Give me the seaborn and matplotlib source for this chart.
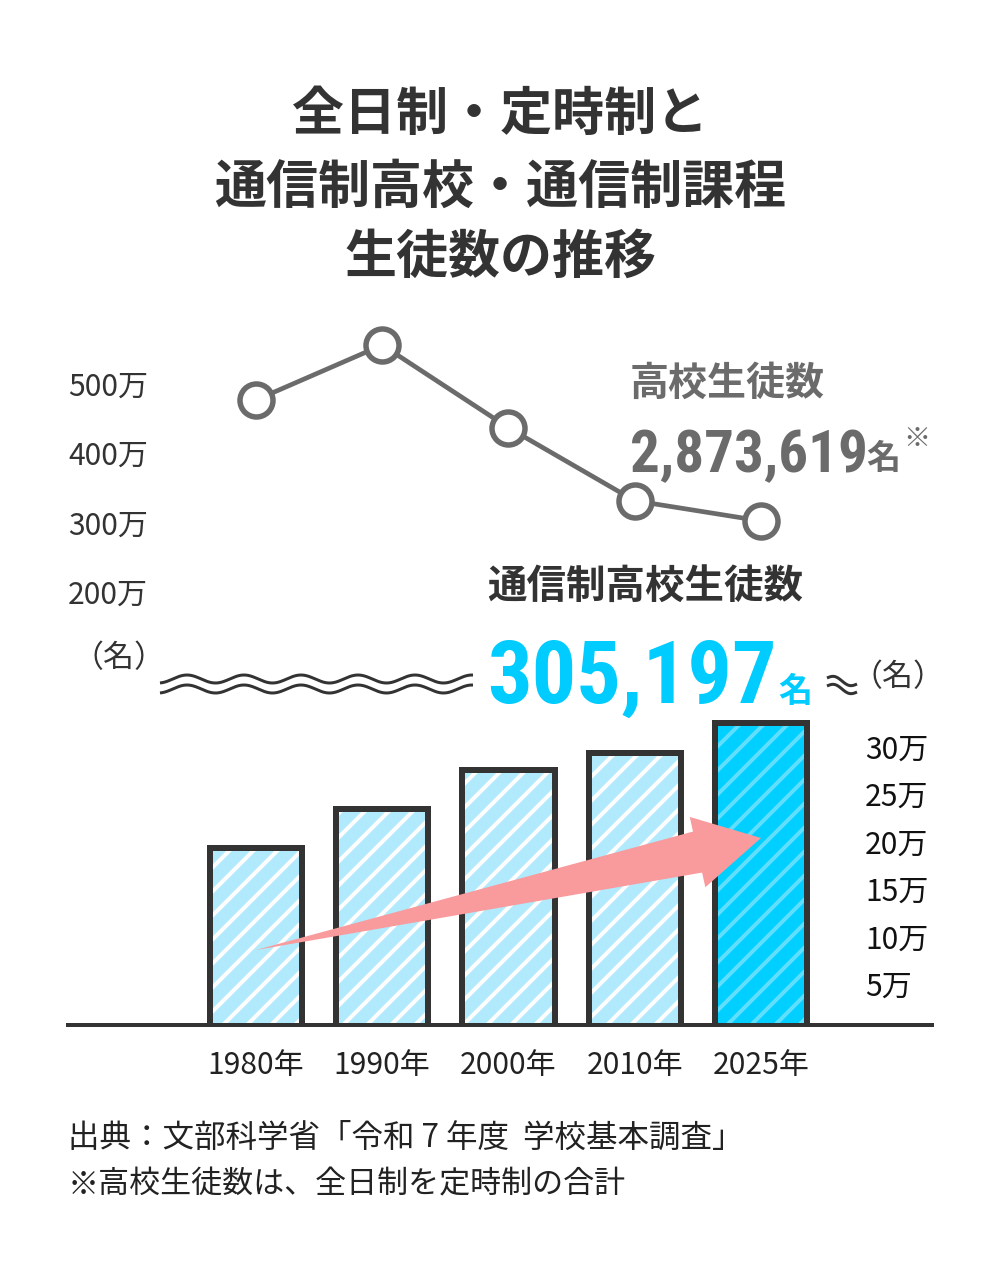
import numpy as np
import pandas as pd
import matplotlib
matplotlib.use("Agg")
import matplotlib.pyplot as plt
import seaborn as sns
from matplotlib import font_manager as fm
from matplotlib.patches import Polygon
from matplotlib.lines import Line2D
from matplotlib.transforms import IdentityTransform
from matplotlib.textpath import TextPath
from matplotlib.font_manager import FontProperties

# ---------------- data ----------------
years = ["1980年", "1990年", "2000年", "2010年", "2025年"]
hs_students_man = [476, 555, 436, 331, 302]            # 高校生徒数 (万人)
corr_students_man = [19.3, 23.4, 27.5, 29.3, 32.5]     # 通信制高校生徒数 (万人)
top_ticks = [200, 300, 400, 500]
top_ticklabels = ["200万", "300万", "400万", "500万"]
bar_ticks = [5, 10, 15, 20, 25, 30]
bar_ticklabels = ["5万", "10万", "15万", "20万", "25万", "30万"]
title_lines = ["全日制・定時制と", "通信制高校・通信制課程", "生徒数の推移"]
hs_label = "高校生徒数"
hs_total = "2,873,619"
corr_label = "通信制高校生徒数"
corr_total = "305,197"
unit = "名"
note_mark = "※"
unit_paren = "（名）"
source_lines = ["出典：文部科学省「令和 7 年度  学校基本調査」",
                "※高校生徒数は、全日制を定時制の合計"]

# ---------------- style ----------------
W, H, DPI = 1000, 1261, 72
sns.set_theme(style="white")
plt.rcParams['font.family'] = ['Noto Sans CJK JP', 'DejaVu Sans']
plt.rcParams['hatch.linewidth'] = 4.0

DARK = "#333333"
GRAY = "#6b6b6b"
CYAN = "#00ccff"
LIGHT_BAR = "#b0eafc"
CYAN_BAR = "#00cfff"
STRIPE_LIGHT = "white"
STRIPE_CYAN = "#5fdfff"
PINK = "#f99a9c"

fig = plt.figure(figsize=(W / DPI, H / DPI), dpi=DPI)
fig.patch.set_facecolor("white")


def fx(px):
    return px / W


def fy(py):
    return 1 - py / H


def rect(l, t, r, b):
    return [fx(l), fy(b), (r - l) / W, (b - t) / H]


# category positions: center 0 at px 256, pitch 126.25
X0, PITCH = 256, 126.25
xlim = ((68 - X0) / PITCH, (932 - X0) / PITCH)

# ---------------- top: line chart ----------------
ax1 = fig.add_axes(rect(68, 320, 932, 620))
ax1.set_facecolor("none")
df_top = pd.DataFrame({"year": years, "students": hs_students_man})
sns.pointplot(data=df_top, x="year", y="students", ax=ax1, color=GRAY,
              errorbar=None, markers="o", linewidth=4.7, markersize=33,
              markeredgewidth=5.5)
for ln in ax1.lines:
    ln.set_markerfacecolor("white")
    ln.set_markeredgecolor(GRAY)
    ln.set_color(GRAY)
ax1.set_xlim(*xlim)
PX_PER_100 = 69.5
ax1.set_ylim(500 - (620 - 383.3) / PX_PER_100 * 100, 500 + (383.3 - 320) / PX_PER_100 * 100)
ax1.set_yticks(top_ticks, top_ticklabels)
ax1.set_xticks([])
ax1.tick_params(axis="y", length=0, pad=0, labelsize=30, labelcolor=DARK)
plt.setp(ax1.get_yticklabels(), ha="left")
ax1.set_xlabel("")
ax1.set_ylabel("")
for s in ax1.spines.values():
    s.set_visible(False)

# ---------------- bottom: bar chart ----------------
ax2 = fig.add_axes(rect(68, 700, 932, 1025))
ax2.set_facecolor("none")
df_bar = pd.DataFrame({"year": years, "students": corr_students_man})
sns.barplot(data=df_bar, x="year", y="students", hue="year",
            palette=[LIGHT_BAR] * 4 + [CYAN_BAR], legend=False, saturation=1,
            width=0.73, linewidth=0, ax=ax2)
for p, sc in zip(list(ax2.patches), [STRIPE_LIGHT] * 4 + [STRIPE_CYAN]):
    p.set_hatch("/")
    p.set_edgecolor(sc)
    p.set_linewidth(0)
n_before = len(ax2.patches)
sns.barplot(data=df_bar, x="year", y="students", fill=False, color=DARK,
            saturation=1, width=0.73, linewidth=6, ax=ax2)
for p in ax2.patches[n_before:]:
    p.set_joinstyle("miter")
    p.set_edgecolor(DARK)

ax2.set_xlim(*xlim)
ZERO_PX, PX_PER_UNIT = 1031.5, 9.5
ax2.set_ylim((ZERO_PX - 1025) / PX_PER_UNIT, (ZERO_PX - 700) / PX_PER_UNIT)
ax2.yaxis.tick_right()
ax2.set_yticks(bar_ticks, bar_ticklabels)
ax2.tick_params(axis="y", length=0, pad=-67, labelsize=30, labelcolor="#111111")
ax2.tick_params(axis="x", length=0, pad=25, labelsize=30, labelcolor="#222222")
ax2.set_xlabel("")
ax2.set_ylabel("")
for k, s in ax2.spines.items():
    s.set_visible(k == "bottom")
ax2.spines["bottom"].set_linewidth(4)
ax2.spines["bottom"].set_color(DARK)
ax2.spines["bottom"].set_zorder(5)

# pink growth arrow from the first bar to the last bar
tail = np.array(ax2.transData.transform((0, (ZERO_PX - 950) / PX_PER_UNIT)))
tip = np.array(ax2.transData.transform((4, (ZERO_PX - 838) / PX_PER_UNIT)))
d = tip - tail
u = d / np.hypot(*d)
nrm = np.array([-u[1], u[0]])
hl, hw, sw = 65, 36, 21
J = tip - hl * u
arrow_pts = [tail, J + sw * nrm, J + hw * nrm, tip, J - hw * nrm, J - sw * nrm]
fig.add_artist(Polygon(arrow_pts, closed=True, facecolor=PINK, edgecolor="none",
                       transform=IdentityTransform(), zorder=10))

# ---------------- titles & annotations ----------------
for line, yy in zip(title_lines, [114, 187, 257]):
    fig.text(0.5, fy(yy), line, ha="center", va="center", fontsize=52,
             fontweight="bold", color=DARK)

# condensed font for the big numbers
names = {(f.name, f.stretch) for f in fm.fontManager.ttflist}
fam_names = {n for n, _ in names}
if "Liberation Sans Narrow" in fam_names:
    num_prop = FontProperties(family="Liberation Sans Narrow", weight="bold")
elif "Roboto Condensed" in fam_names:
    num_prop = FontProperties(family="Roboto Condensed", weight="bold")
elif ("DejaVu Sans", "condensed") in names:
    num_prop = FontProperties(family="DejaVu Sans", weight="bold", stretch="condensed")
else:
    num_prop = FontProperties(family="Roboto", weight="bold")


def fit_size(s, target_w):
    ext_w = TextPath((0, 0), s, size=100, prop=num_prop).get_extents()
    size = 100 * target_w / ext_w.width
    ext = TextPath((0, 0), s, size=size, prop=num_prop).get_extents()
    return size, ext


fig.text(fx(630), fy(383), hs_label, ha="left", va="center", fontsize=39,
         fontweight="bold", color=GRAY)
size_hs, ext_hs = fit_size(hs_total, 233)
x_hs = 632 - ext_hs.x0
fig.text(fx(x_hs), fy(472), hs_total, ha="left", va="baseline",
         fontproperties=num_prop, fontsize=size_hs, color=GRAY)
x_unit = x_hs + ext_hs.x1 + 1
fig.text(fx(x_unit), fy(469), unit, ha="left", va="baseline", fontsize=34,
         fontweight="bold", color=GRAY)
fig.text(fx(x_unit + 37), fy(447), note_mark, ha="left", va="baseline",
         fontsize=27, color=GRAY)

fig.text(fx(487), fy(586), corr_label, ha="left", va="center", fontsize=39.5,
         fontweight="bold", color=DARK)
size_c, ext_c = fit_size(corr_total, 283)
x_c = 490 - ext_c.x0
fig.text(fx(x_c), fy(703), corr_total, ha="left", va="baseline",
         fontproperties=num_prop, fontsize=size_c, color=CYAN)
fig.text(fx(x_c + ext_c.x1 + 5), fy(702), unit, ha="left", va="baseline",
         fontsize=34, fontweight="bold", color=CYAN)

# axis unit labels
fig.text(fx(119), fy(659), unit_paren, ha="center", va="center", fontsize=31, color=DARK)
fig.text(fx(898), fy(678), unit_paren, ha="center", va="center", fontsize=31, color=DARK)

# axis-break wavy lines
xs = np.linspace(160, 473, 400)
for off in (0, 10):
    yp = 679 + off - 4 * np.cos(2 * np.pi * (xs - 187) / 57)
    fig.add_artist(Line2D(fx(xs), fy(yp), color=DARK, lw=3,
                          transform=fig.transFigure, solid_capstyle="butt"))
xs2 = np.linspace(827, 857, 80)
for yc in (681, 689):
    yp = yc - 3 * np.sin(2 * np.pi * (xs2 - 827) / 30) + 0.2 * (xs2 - 842)
    fig.add_artist(Line2D(fx(xs2), fy(yp), color=DARK, lw=3,
                          transform=fig.transFigure, solid_capstyle="butt"))

# source notes
for line, yy, fs in zip(source_lines, [1138, 1185], [31.5, 31]):
    fig.text(fx(68), fy(yy), line, ha="left", va="center", fontsize=fs, color="#222222")

fig.savefig("out.png", dpi=DPI, facecolor="white")
